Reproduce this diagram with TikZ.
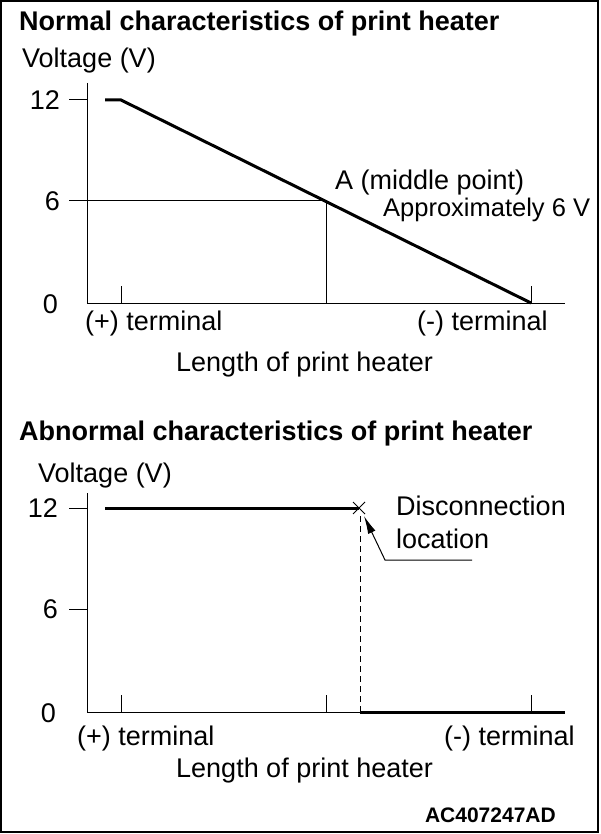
\documentclass[tikz,border=0pt]{standalone}
\usepackage{fontspec}
\setmainfont{Liberation Sans}
\usetikzlibrary{arrows.meta}

\begin{document}
\begin{tikzpicture}[x=1pt, y=-1pt,
        txt/.style={inner sep=0pt, font=\fontsize{27}{31}\selectfont},
        ttl/.style={inner sep=0pt, font=\fontsize{27}{31}\selectfont\bfseries},
        thin line/.style={line width=1pt},
        curve/.style={line width=3pt}]
    \useasboundingbox (0, 0) rectangle (600, 834);
    \draw[line width=1.5pt] (1, 1) rectangle (598, 832);

    % normal characteristics
    \node[ttl, anchor=west] (ttlN) at (19, 24) {Normal characteristics of print heater};
    \node[txt, anchor=west] (voltN) at (22, 61) {Voltage (V)};
    \node[txt, anchor=east] (twelveN) at (60, 100) {12};
    \node[txt, anchor=east] (sixN) at (60, 201) {6};
    \node[txt, anchor=east] (zeroN) at (58, 304) {0};
    \draw[thin line] (87, 83) -- (87, 303) -- (565, 303);
    \draw[thin line] (69, 100) -- (87, 100);
    \draw[thin line] (69, 201) -- (326, 201) -- (326, 303);
    \draw[thin line] (121, 286) -- (121, 303);
    \draw[thin line] (531, 286) -- (531, 303);
    \draw[curve] (105, 100) -- (121, 100) -- (531, 303);
    \node[txt, anchor=west] (midA) at (335, 183) {A (middle point)};
    \node[txt, anchor=west, font=\fontsize{25.5}{30}\selectfont] (approx) at (383, 210) {Approximately 6 V};
    \node[txt, anchor=west] (plusN) at (85, 324) {(+) terminal};
    \node[txt, anchor=west] (minusN) at (417, 324) {(-) terminal};
    \node[txt, anchor=west] (lenN) at (176, 365) {Length of print heater};

    % abnormal characteristics
    \node[ttl, anchor=west] (ttlA) at (19, 434) {Abnormal characteristics of print heater};
    \node[txt, anchor=west] (voltA) at (38, 476) {Voltage (V)};
    \node[txt, anchor=east] (twelveA) at (58, 508) {12};
    \node[txt, anchor=east] (sixA) at (58, 609) {6};
    \node[txt, anchor=east] (zeroA) at (56, 713) {0};
    \draw[thin line] (87, 493) -- (87, 712) -- (360, 712);
    \draw[thin line] (69, 508) -- (87, 508);
    \draw[thin line] (69, 609) -- (87, 609);
    \foreach \tx in {121, 326, 531}
        \draw[thin line] (\tx, 695) -- (\tx, 712);
    \draw[curve] (105, 508) -- (359, 508);
    \draw[curve] (360, 712) -- (565, 712);
    \draw[line width=0.8pt, dash pattern=on 6pt off 4pt] (360, 516) -- (360, 712);
    \draw[line width=1pt] (353, 502) -- (365, 514) (353, 514) -- (365, 502);
    \node[txt, anchor=west] (disc) at (396, 506) {Disconnection};
    \node[txt, anchor=west] (loc) at (396, 539) {location};
    \coordinate (leadR) at (472, 560);
    \coordinate (leadL) at (385, 560);
    \coordinate (cross) at (364, 516);
    \draw[thin line, -{Latex[length=18pt, width=8pt]}] (leadR) -- (leadL) -- (cross);
    \node[txt, anchor=west] (plusA) at (77, 739) {(+) terminal};
    \node[txt, anchor=west] (minusA) at (444, 739) {(-) terminal};
    \node[txt, anchor=west] (lenA) at (176, 771) {Length of print heater};
    \node[ttl, anchor=east, font=\fontsize{21}{24}\selectfont\bfseries] (code) at (556, 815) {AC407247AD};
\end{tikzpicture}
\end{document}
